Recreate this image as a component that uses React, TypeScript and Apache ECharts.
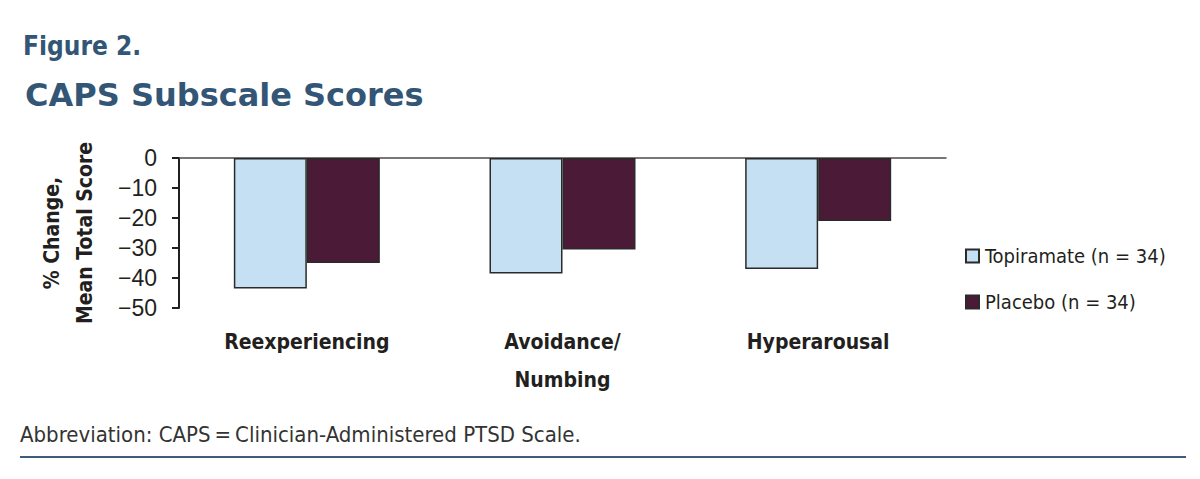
import React, { useEffect, useRef } from "react";
import * as echarts from "echarts";

const categories = ["Reexperiencing", "Avoidance/\nNumbing", "Hyperarousal"];
const topiramate = [-43.5, -38.5, -37];
const placebo = [-35, -30.5, -21];
const seriesNames = ["Topiramate (n = 34)", "Placebo (n = 34)"];
const yTicks = { min: -50, max: 0, interval: 10 };

export default function App() {
  const ref = useRef<HTMLDivElement>(null);
  useEffect(() => {
    document.body.style.margin = "0";
    const chart = echarts.init(ref.current!, null, { renderer: "svg" });
    const axisColor = "#231f20";
    const titleColor = "#335676";
    const cond = "DejaVu Sans Condensed";
    chart.setOption({
      animation: false,
      backgroundColor: "#ffffff",
      title: [
        {
          text: "Figure 2.",
          left: 18,
          top: 28,
          textStyle: { fontFamily: cond, fontWeight: "bold", fontSize: 26, color: titleColor },
        },
        {
          text: "CAPS Subscale Scores",
          left: 20,
          top: 74,
          textStyle: { fontFamily: "DejaVu Sans", fontWeight: "bold", fontSize: 32, color: titleColor },
        },
      ],
      legend: [
        {
          data: [{ name: seriesNames[0], icon: "rect" }],
          left: 960,
          top: 241,
          itemWidth: 13,
          itemHeight: 13,
          itemGap: 8,
          textStyle: { fontFamily: cond, fontSize: 20, color: axisColor, padding: [0, 0, 0, 1] },
        },
        {
          data: [{ name: seriesNames[1], icon: "rect" }],
          left: 960,
          top: 287,
          itemWidth: 13,
          itemHeight: 13,
          itemGap: 8,
          textStyle: { fontFamily: cond, fontSize: 20, color: axisColor, padding: [0, 0, 0, 1] },
        },
      ],
      grid: { left: 179, right: 254, top: 158, bottom: 171, containLabel: false },
      xAxis: [
        {
          type: "category",
          data: categories,
          position: "bottom",
          axisLine: { show: false },
          axisTick: { show: false },
          axisLabel: {
            interval: 0,
            margin: 15,
            fontFamily: cond,
            fontWeight: "bold",
            fontSize: 21,
            lineHeight: 38,
            color: axisColor,
          },
        },
        {
          type: "category",
          data: categories,
          position: "top",
          axisLine: { show: true, onZero: false, lineStyle: { color: "#4a4a4a", width: 1.5 } },
          axisTick: { show: false },
          axisLabel: { show: false },
        },
      ],
      yAxis: {
        type: "value",
        min: yTicks.min,
        max: yTicks.max,
        interval: yTicks.interval,
        name: "% Change,\nMean Total Score",
        nameLocation: "middle",
        nameRotate: 90,
        nameGap: 78,
        nameTextStyle: {
          fontFamily: cond,
          fontWeight: "bold",
          fontSize: 21,
          lineHeight: 33,
          color: axisColor,
        },
        axisLine: { show: true, lineStyle: { color: axisColor, width: 2 } },
        axisTick: { show: true, length: 7, lineStyle: { color: axisColor, width: 2 } },
        splitLine: { show: false },
        axisLabel: {
          margin: 22,
          fontFamily: "Liberation Sans",
          fontSize: 23,
          color: axisColor,
          formatter: (v: number) => String(v).replace("-", "\u2212"),
        },
      },
      series: [
        {
          name: seriesNames[0],
          type: "bar",
          data: topiramate,
          barWidth: 73,
          barGap: "0%",
          itemStyle: { color: "#c5dff3", borderColor: "#2a2a2a", borderWidth: 1.5 },
        },
        {
          name: seriesNames[1],
          type: "bar",
          data: placebo,
          barWidth: 73,
          barGap: "0%",
          itemStyle: { color: "#4a1a36", borderColor: "#2a2a2a", borderWidth: 1.5 },
        },
      ],
      graphic: [
        {
          type: "text",
          left: 20,
          top: 423,
          style: {
            text: "Abbreviation: CAPS\u2009=\u2009Clinician-Administered PTSD Scale.",
            fontFamily: cond,
            fontSize: 22,
            fill: "#333333",
          },
        },
        {
          type: "line",
          shape: { x1: 20, y1: 457, x2: 1186, y2: 457 },
          style: { stroke: "#3e5b79", lineWidth: 2 },
        },
      ],
    });
    return () => chart.dispose();
  }, []);
  return <div ref={ref} style={{ width: 1200, height: 479 }} />;
}
